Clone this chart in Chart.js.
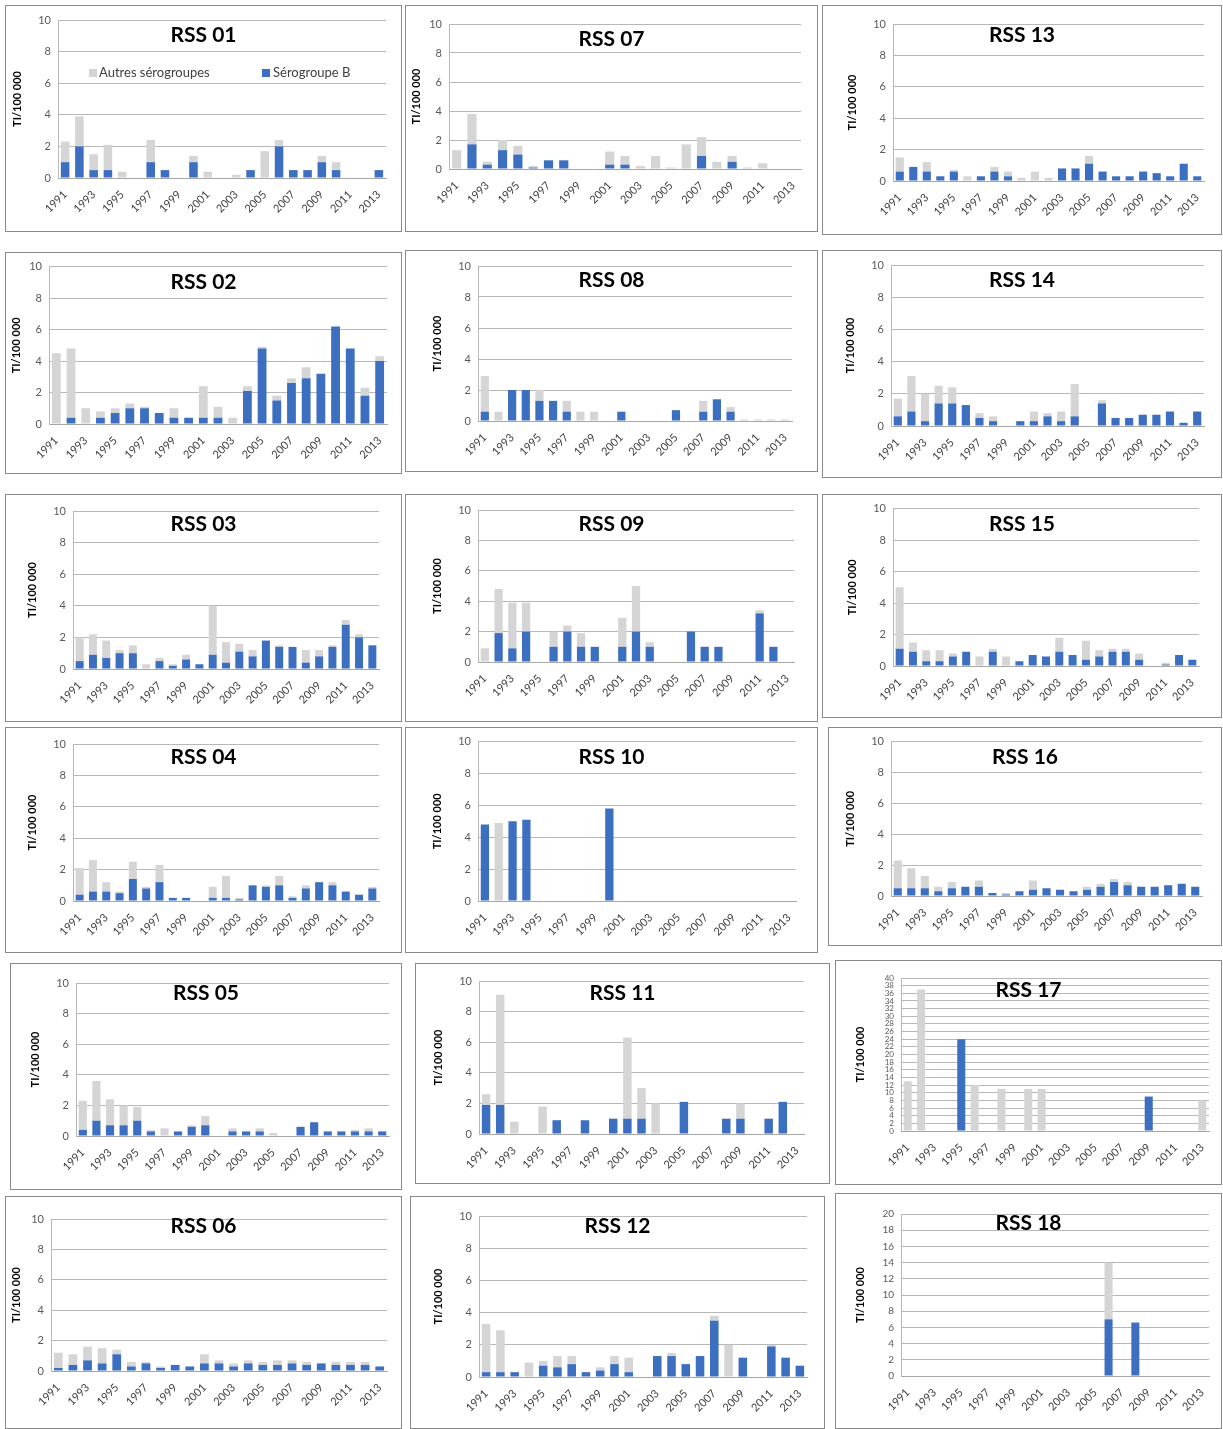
<!DOCTYPE html>
<html>
<head>
<meta charset="utf-8">
<script src="https://cdn.jsdelivr.net/npm/chart.js@4.4.1/dist/chart.umd.min.js"></script>
<style>
  body { margin: 0; background: #fff; }
  #page { position: relative; width: 1223px; height: 1429px; overflow: hidden; }
  .panel { position: absolute; box-sizing: border-box; border: 1px solid #8a8a8a; background: #fff; }
  .panel canvas { display: block; }
</style>
</head>
<body>
<div id="page"></div>
<script>
// years on the x axis
const years = ['1991','1992','1993','1994','1995','1996','1997','1998','1999','2000','2001','2002',
  '2003','2004','2005','2006','2007','2008','2009','2010','2011','2012','2013']

// Sérogroupe B (bottom) and Autres sérogroupes (stacked on top), TI/100 000
const rss01_B      = [1.0,2.0,0.5,0.5,0,0,1.0,0.5,0,1.0,0,0,0,0.5,0,2.0,0.5,0.5,1.0,0.5,0,0,0.5]
const rss01_autres = [1.3,1.9,1.0,1.6,0.4,0,1.4,0,0,0.4,0.4,0,0.2,0,1.7,0.4,0,0,0.4,0.5,0,0,0]
const rss02_B      = [0,0.4,0,0.4,0.7,1.0,1.0,0.7,0.4,0.4,0.4,0.4,0,2.1,4.8,1.5,2.6,2.9,3.2,6.2,4.8,1.8,4.0]
const rss02_autres = [4.5,4.4,1.0,0.4,0.3,0.3,0.1,0,0.6,0,2.0,0.7,0.4,0.3,0.1,0.3,0.3,0.7,0,0,0,0.5,0.3]
const rss03_B      = [0.5,0.9,0.7,1.0,1.0,0,0.5,0.2,0.6,0.3,0.9,0.4,1.1,0.8,1.8,1.4,1.4,0.4,0.8,1.4,2.8,2.0,1.5]
const rss03_autres = [1.5,1.3,1.1,0.2,0.5,0.3,0.2,0.1,0.3,0,3.1,1.3,0.5,0.4,0,0.1,0,0.8,0.4,0.1,0.3,0.2,0]
const rss04_B      = [0.4,0.6,0.6,0.5,1.4,0.8,1.2,0.2,0.2,0,0.2,0.2,0.1,1.0,0.9,1.0,0.2,0.8,1.2,1.0,0.6,0.4,0.8]
const rss04_autres = [1.7,2.0,0.6,0.1,1.1,0.1,1.1,0,0,0,0.7,1.4,0.1,0,0.1,0.6,0.1,0.2,0,0.2,0,0,0.1]
const rss05_B      = [0.4,1.0,0.7,0.7,1.0,0.3,0,0.3,0.6,0.7,0,0.3,0.3,0.3,0,0,0.6,0.9,0.3,0.3,0.3,0.3,0.3]
const rss05_autres = [1.9,2.6,1.7,1.3,0.9,0.1,0.5,0,0.1,0.6,0,0.2,0,0.2,0.2,0,0,0,0,0,0.1,0.2,0]
const rss06_B      = [0.2,0.4,0.7,0.5,1.1,0.3,0.5,0.2,0.4,0.3,0.5,0.5,0.3,0.5,0.4,0.4,0.5,0.4,0.5,0.4,0.4,0.4,0.3]
const rss06_autres = [1.0,0.7,0.9,1.0,0.3,0.3,0.1,0.1,0,0,0.6,0.2,0.2,0.2,0.2,0.3,0.2,0.2,0,0.2,0.2,0.2,0]
const rss07_B      = [0,1.7,0.3,1.3,1.0,0.1,0.6,0.6,0,0,0.3,0.3,0,0,0,0,0.9,0,0.5,0,0,0,0]
const rss07_autres = [1.3,2.1,0.2,0.7,0.6,0.1,0,0,0,0,0.9,0.6,0.2,0.9,0.1,1.7,1.3,0.5,0.4,0.1,0.4,0,0]
const rss08_B      = [0.6,0,2.0,2.0,1.3,1.3,0.6,0,0,0,0.6,0,0,0,0.7,0,0.6,1.4,0.6,0,0,0,0]
const rss08_autres = [2.3,0.6,0,0,0.7,0,0.7,0.6,0.6,0,0,0,0,0,0,0,0.7,0,0.3,0.1,0.1,0.1,0.1]
const rss09_B      = [0,1.9,0.9,2.0,0,1.0,2.0,1.0,1.0,0,1.0,2.0,1.0,0,0,2.0,1.0,1.0,0,0,3.2,1.0,0]
const rss09_autres = [0.9,2.9,3.0,1.9,0,1.0,0.4,0.9,0,0,1.9,3.0,0.3,0,0,0,0,0,0,0,0.2,0,0]
const rss10_B      = [4.8,0,5.0,5.1,0,0,0,0,0,5.8,0,0,0,0,0,0,0,0,0,0,0,0,0]
const rss10_autres = [0,4.9,0,0,0,0,0,0,0,0,0,0,0,0,0,0,0,0,0,0,0,0,0]
const rss11_B      = [1.9,1.9,0,0,0,0.9,0,0.9,0,1.0,1.0,1.0,0,0,2.1,0,0,1.0,1.0,0,1.0,2.1,0]
const rss11_autres = [0.7,7.2,0.8,0,1.8,0,0,0,0,0,5.3,2.0,2.0,0,0,0,0,0,1.0,0,0,0,0]
const rss12_B      = [0.3,0.3,0.3,0,0.7,0.6,0.8,0.3,0.4,0.8,0.3,0,1.3,1.3,0.8,1.3,3.5,0,1.2,0,1.9,1.2,0.7]
const rss12_autres = [3.0,2.6,0,0.9,0.3,0.7,0.5,0,0.2,0.5,0.9,0,0,0.2,0,0,0.3,2.0,0,0,0.1,0,0]
const rss13_B      = [0.6,0.9,0.6,0.3,0.6,0,0.3,0.6,0.3,0,0,0,0.8,0.8,1.1,0.6,0.3,0.3,0.6,0.5,0.3,1.1,0.3]
const rss13_autres = [0.9,0,0.6,0,0.1,0.3,0,0.3,0.3,0.2,0.6,0.2,0,0,0.5,0,0,0,0,0,0,0,0]
const rss14_B      = [0.6,0.9,0.3,1.4,1.4,1.3,0.5,0.3,0,0.3,0.3,0.6,0.3,0.6,0,1.4,0.5,0.5,0.7,0.7,0.9,0.2,0.9]
const rss14_autres = [1.1,2.2,1.7,1.1,1.0,0,0.3,0.3,0,0,0.6,0.2,0.6,2.0,0,0.2,0,0,0,0,0,0,0]
const rss15_B      = [1.1,0.9,0.3,0.3,0.6,0.9,0,0.9,0,0.3,0.7,0.6,0.9,0.7,0.4,0.6,0.9,0.9,0.4,0,0.1,0.7,0.4]
const rss15_autres = [3.9,0.6,0.7,0.7,0.2,0,0.6,0.2,0.6,0,0,0,0.9,0,1.2,0.4,0.2,0.2,0.4,0,0.1,0,0]
const rss16_B      = [0.5,0.5,0.5,0.3,0.5,0.6,0.6,0.2,0.1,0.3,0.4,0.5,0.4,0.3,0.4,0.6,0.9,0.7,0.6,0.6,0.7,0.8,0.6]
const rss16_autres = [1.8,1.3,0.8,0.3,0.4,0,0.4,0,0.1,0,0.6,0,0,0,0.2,0.2,0.2,0.2,0,0,0,0,0]
const rss17_B      = [0,0,0,0,24,0,0,0,0,0,0,0,0,0,0,0,0,0,9,0,0,0,0]
const rss17_autres = [13,37,0,0,0,12,0,11,0,11,11,0,0,0,0,0,0,0,0,0,0,0,8]
const rss18_B      = [0,0,0,0,0,0,0,0,0,0,0,0,0,0,0,7,0,6.6,0,0,0,0,0]
const rss18_autres = [0,0,0,0,0,0,0,0,0,0,0,0,0,0,0,7,0,0,0,0,0,0,0]

const blue = '#3d6fc0'
const grey = '#d5d5d5'
const fontFamily = 'Lato, "Open Sans", sans-serif'

// panel boxes on the page and where the plot sits inside each
// x,y,w,h = box; pl = y axis width, pt = top pad, pr = right pad, pb = x axis height
const panels = [
  {name:'RSS 01', B:rss01_B, A:rss01_autres, x:5,   y:5,    w:397, h:227, pl:52, pt:14, pr:15, pb:53, legend:true},
  {name:'RSS 02', B:rss02_B, A:rss02_autres, x:5,   y:252,  w:397, h:222, pl:43, pt:11, pr:14, pb:49},
  {name:'RSS 03', B:rss03_B, A:rss03_autres, x:5,   y:494,  w:397, h:228, pl:67, pt:16, pr:22, pb:52},
  {name:'RSS 04', B:rss04_B, A:rss04_autres, x:5,   y:727,  w:397, h:226, pl:67, pt:16, pr:22, pb:51},
  {name:'RSS 05', B:rss05_B, A:rss05_autres, x:10,  y:963,  w:392, h:227, pl:65, pt:19, pr:12, pb:53},
  {name:'RSS 06', B:rss06_B, A:rss06_autres, x:5,   y:1196, w:397, h:233, pl:45, pt:22, pr:14, pb:57},
  {name:'RSS 07', B:rss07_B, A:rss07_autres, x:405, y:5,    w:413, h:227, pl:43, pt:18, pr:16, pb:62, titleY:33},
  {name:'RSS 08', B:rss08_B, A:rss08_autres, x:405, y:250,  w:413, h:222, pl:72, pt:15, pr:25, pb:50},
  {name:'RSS 09', B:rss09_B, A:rss09_autres, x:405, y:494,  w:413, h:228, pl:72, pt:15, pr:23, pb:59},
  {name:'RSS 10', B:rss10_B, A:rss10_autres, x:405, y:727,  w:413, h:226, pl:72, pt:13, pr:21, pb:51},
  {name:'RSS 11', B:rss11_B, A:rss11_autres, x:415, y:963,  w:415, h:221, pl:63, pt:17, pr:25, pb:49},
  {name:'RSS 12', B:rss12_B, A:rss12_autres, x:410, y:1196, w:415, h:233, pl:68, pt:19, pr:17, pb:51},
  {name:'RSS 13', B:rss13_B, A:rss13_autres, x:822, y:5,    w:400, h:230, pl:70, pt:18, pr:17, pb:53},
  {name:'RSS 14', B:rss14_B, A:rss14_autres, x:822, y:250,  w:400, h:228, pl:68, pt:14, pr:17, pb:51},
  {name:'RSS 15', B:rss15_B, A:rss15_autres, x:822, y:494,  w:400, h:224, pl:70, pt:13, pr:22, pb:51},
  {name:'RSS 16', B:rss16_B, A:rss16_autres, x:828, y:727,  w:394, h:219, pl:62, pt:13, pr:19, pb:49},
  {name:'RSS 17', B:rss17_B, A:rss17_autres, x:835, y:960,  w:387, h:225, pl:65, pt:17, pr:12, pb:53, max:40, tickSize:8},
  {name:'RSS 18', B:rss18_B, A:rss18_autres, x:835, y:1193, w:387, h:236, pl:65, pt:20, pr:12, pb:52, max:20, tickSize:10}
]

// draws the panel title inside the plot, and the legend for RSS 01
const panelText = {
  id: 'panelText',
  afterDraw(chart, args, opts) {
    const ctx = chart.ctx
    ctx.save()
    ctx.font = 'bold 21px ' + fontFamily
    ctx.fillStyle = '#000'
    ctx.textAlign = 'center'
    ctx.textBaseline = 'middle'
    ctx.fillText(opts.title, chart.width / 2, opts.titleY)
    if (opts.legend) {
      ctx.font = '13px ' + fontFamily
      ctx.textAlign = 'left'
      ctx.fillStyle = grey
      ctx.fillRect(83, 63, 8, 8)
      ctx.fillStyle = '#404040'
      ctx.fillText('Autres sérogroupes', 93, 67)
      ctx.fillStyle = blue
      ctx.fillRect(256, 63, 8, 8)
      ctx.fillStyle = '#404040'
      ctx.fillText('Sérogroupe B', 267, 67)
    }
    ctx.restore()
  }
}

const page = document.getElementById('page')
panels.forEach(p => {
  const box = document.createElement('div')
  box.className = 'panel'
  box.style.left = p.x + 'px'
  box.style.top = p.y + 'px'
  box.style.width = p.w + 'px'
  box.style.height = p.h + 'px'
  const canvas = document.createElement('canvas')
  canvas.width = p.w - 2
  canvas.height = p.h - 2
  box.appendChild(canvas)
  page.appendChild(box)

  // axis title sits about 40px left of the plot
  const titlePad = Math.max(p.pl - 47, 4)

  new Chart(canvas.getContext('2d'), {
    type: 'bar',
    data: {
      labels: years,
      datasets: [
        { label: 'Sérogroupe B', data: p.B, backgroundColor: blue },
        { label: 'Autres sérogroupes', data: p.A, backgroundColor: grey }
      ]
    },
    options: {
      responsive: false,
      animation: false,
      events: [],
      layout: { padding: { left: 0, top: p.pt, right: p.pr, bottom: 0 } },
      datasets: { bar: { categoryPercentage: 1, barPercentage: 0.6 } },
      plugins: {
        legend: { display: false },
        tooltip: { enabled: false },
        panelText: { title: p.name, titleY: p.titleY || 29, legend: !!p.legend }
      },
      scales: {
        x: {
          stacked: true,
          grid: { display: false },
          border: { color: '#a6a6a6' },
          ticks: {
            autoSkip: false,
            minRotation: 45,
            maxRotation: 45,
            padding: 2,
            color: '#404040',
            font: { family: fontFamily, size: 11 },
            callback: function (val, i) { return i % 2 === 0 ? this.getLabelForValue(val) : '' }
          },
          afterFit: scale => { scale.height = p.pb }
        },
        y: {
          stacked: true,
          min: 0,
          max: p.max || 10,
          grid: { color: '#b8b8b8', drawTicks: false },
          border: { color: '#b8b8b8' },
          ticks: {
            stepSize: 2,
            autoSkip: false,
            padding: 7,
            color: '#595959',
            font: { family: fontFamily, size: p.tickSize || 11 }
          },
          title: {
            display: true,
            text: 'TI/100 000',
            color: '#000',
            padding: { top: titlePad, bottom: 0 },
            font: { family: fontFamily, size: 11, weight: 'bold' }
          },
          afterFit: scale => { scale.width = p.pl }
        }
      }
    },
    plugins: [panelText]
  })
})
</script>
</body>
</html>
